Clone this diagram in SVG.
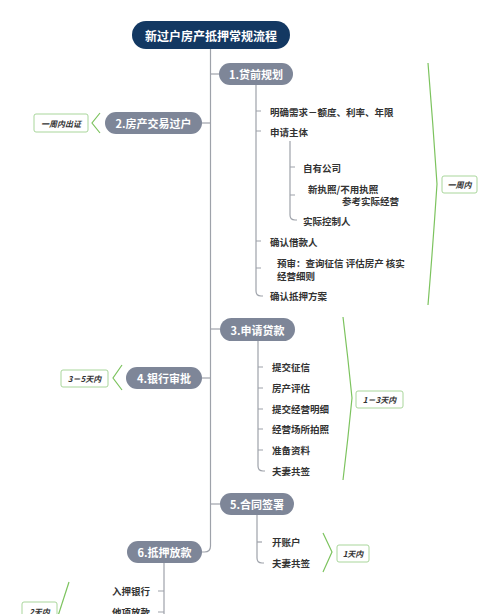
<svg xmlns="http://www.w3.org/2000/svg" width="500" height="614" viewBox="0 0 500 614">
<style>
text{font-family:"Noto Sans CJK SC","Liberation Sans",sans-serif;dominant-baseline:central}
.root{fill:#133862}
.rt{fill:#fff;font-size:12px;font-weight:bold;text-anchor:middle}
.nd{fill:#7e8698}
.nt{fill:#fff;font-size:11px;font-weight:bold;text-anchor:middle}
.ct{fill:#333;font-size:9.5px;font-weight:600}
.ln{fill:none;stroke:#9ea2aa;stroke-width:1.2}
.br{fill:none;stroke:#7cc35e;stroke-width:1.2}
.lb{fill:#fff;stroke:#a9d69b;stroke-width:1}
.lt{fill:#333;font-size:8px;font-weight:bold;font-style:italic;text-anchor:middle}
</style>
<rect width="500" height="614" fill="#fff"/>
<g id="connectors">
<path class="ln" d="M210.5,49 V546 Q210.5,552 204.5,552 H202"/>
<path class="ln" d="M210.5,74 H219"/>
<path class="ln" d="M202,123 H210.5"/>
<path class="ln" d="M210.5,329 H220"/>
<path class="ln" d="M202,378 H210.5"/>
<path class="ln" d="M210.5,504 H220"/>
<path class="ln" d="M256,85 V291 Q256,296 261,296 H263"/>
<path class="ln" d="M256,111 H261 M256,131 H261 M256,241 H261 M256,268 H261"/>
<path class="ln" d="M290,141 V215 Q290,220 295,220 H297"/>
<path class="ln" d="M290,167 H295 M290,195 H295"/>
<path class="ln" d="M258,341 V466 Q258,471 263,471 H265"/>
<path class="ln" d="M258,367 H263 M258,388 H263 M258,409 H263 M258,429 H263 M258,450 H263"/>
<path class="ln" d="M257,515 V558 Q257,563 262,563 H264"/>
<path class="ln" d="M257,542 H262"/>
<path class="ln" d="M164,563 V614"/>
<path class="ln" d="M164,591 H158 M164,612 H158"/>
</g>
<g id="root">
<rect class="root" x="132" y="21" width="158" height="28" rx="14"/>
<text class="rt" x="211" y="35.5">新过户房产抵押常规流程</text>
</g>
<g id="n1">
<rect class="nd" x="219" y="63" width="74" height="22" rx="11"/>
<text class="nt" x="256" y="74">1.贷前规划</text>
</g>
<g id="n1c">
<text class="ct" x="270" y="112">明确需求－额度、利率、年限</text>
<text class="ct" x="270" y="132">申请主体</text>
<text class="ct" x="303" y="168">自有公司</text>
<text class="ct" x="308" y="188.5">新执照/不用执照</text>
<text class="ct" x="342" y="200.5">参考实际经营</text>
<text class="ct" x="303" y="221">实际控制人</text>
<text class="ct" x="270" y="241.5">确认借款人</text>
<text class="ct" x="277" y="262.5">预审：查询征信 评估房产 核实</text>
<text class="ct" x="277" y="275.5">经营细则</text>
<text class="ct" x="270" y="296">确认抵押方案</text>
</g>
<g id="b1">
<path class="br" d="M428,63 Q433,124 437,184 Q433,245 428,305"/>
<rect class="lb" x="442" y="176" width="35" height="17" rx="2"/>
<text class="lt" x="459.5" y="184.5">一周内</text>
</g>
<g id="n2">
<rect class="nd" x="105" y="112" width="97" height="22" rx="11"/>
<text class="nt" x="153.5" y="123">2.房产交易过户</text>
<path class="br" d="M100,113 L92,123 L100,133"/>
<rect class="lb" x="34" y="114" width="54" height="18" rx="2"/>
<text class="lt" x="61" y="123">一周内出证</text>
</g>
<g id="n3">
<rect class="nd" x="220" y="318" width="75" height="23" rx="11.5"/>
<text class="nt" x="257.5" y="329.5">3.申请贷款</text>
</g>
<g id="n3c">
<text class="ct" x="272" y="367">提交征信</text>
<text class="ct" x="272" y="388">房产评估</text>
<text class="ct" x="272" y="409">提交经营明细</text>
<text class="ct" x="272" y="429">经营场所拍照</text>
<text class="ct" x="272" y="450">准备资料</text>
<text class="ct" x="272" y="471">夫妻共签</text>
<path class="br" d="M343,317 Q348,358 352,398 Q348,439 343,480"/>
<rect class="lb" x="356" y="391" width="47" height="17" rx="2"/>
<text class="lt" x="379.5" y="399.5">1－3天内</text>
</g>
<g id="n4">
<rect class="nd" x="126" y="367" width="76" height="22" rx="11"/>
<text class="nt" x="164" y="378">4.银行审批</text>
<path class="br" d="M122,365 L113,378 L122,390"/>
<rect class="lb" x="61" y="370" width="47" height="17" rx="2"/>
<text class="lt" x="84.5" y="378.5">3－5天内</text>
</g>
<g id="n5">
<rect class="nd" x="220" y="493" width="74" height="22" rx="11"/>
<text class="nt" x="257" y="504">5.合同签署</text>
</g>
<g id="n5c">
<text class="ct" x="272" y="542">开账户</text>
<text class="ct" x="272" y="563">夫妻共签</text>
<path class="br" d="M323,533 L332,552 L323,572"/>
<rect class="lb" x="337" y="545" width="32" height="17" rx="2"/>
<text class="lt" x="353" y="553.5">1天内</text>
</g>
<g id="n6">
<rect class="nd" x="127" y="541" width="75" height="22" rx="11"/>
<text class="nt" x="164.5" y="552">6.抵押放款</text>
</g>
<g id="n6c">
<text class="ct" x="150" y="591" text-anchor="end">入押银行</text>
<text class="ct" x="150" y="612" text-anchor="end">他项放款</text>
<path class="br" d="M69,582 L58,616"/>
<rect class="lb" x="22" y="602" width="35" height="17" rx="2"/>
<text class="lt" x="39.5" y="611">2天内</text>
</g>
</svg>
